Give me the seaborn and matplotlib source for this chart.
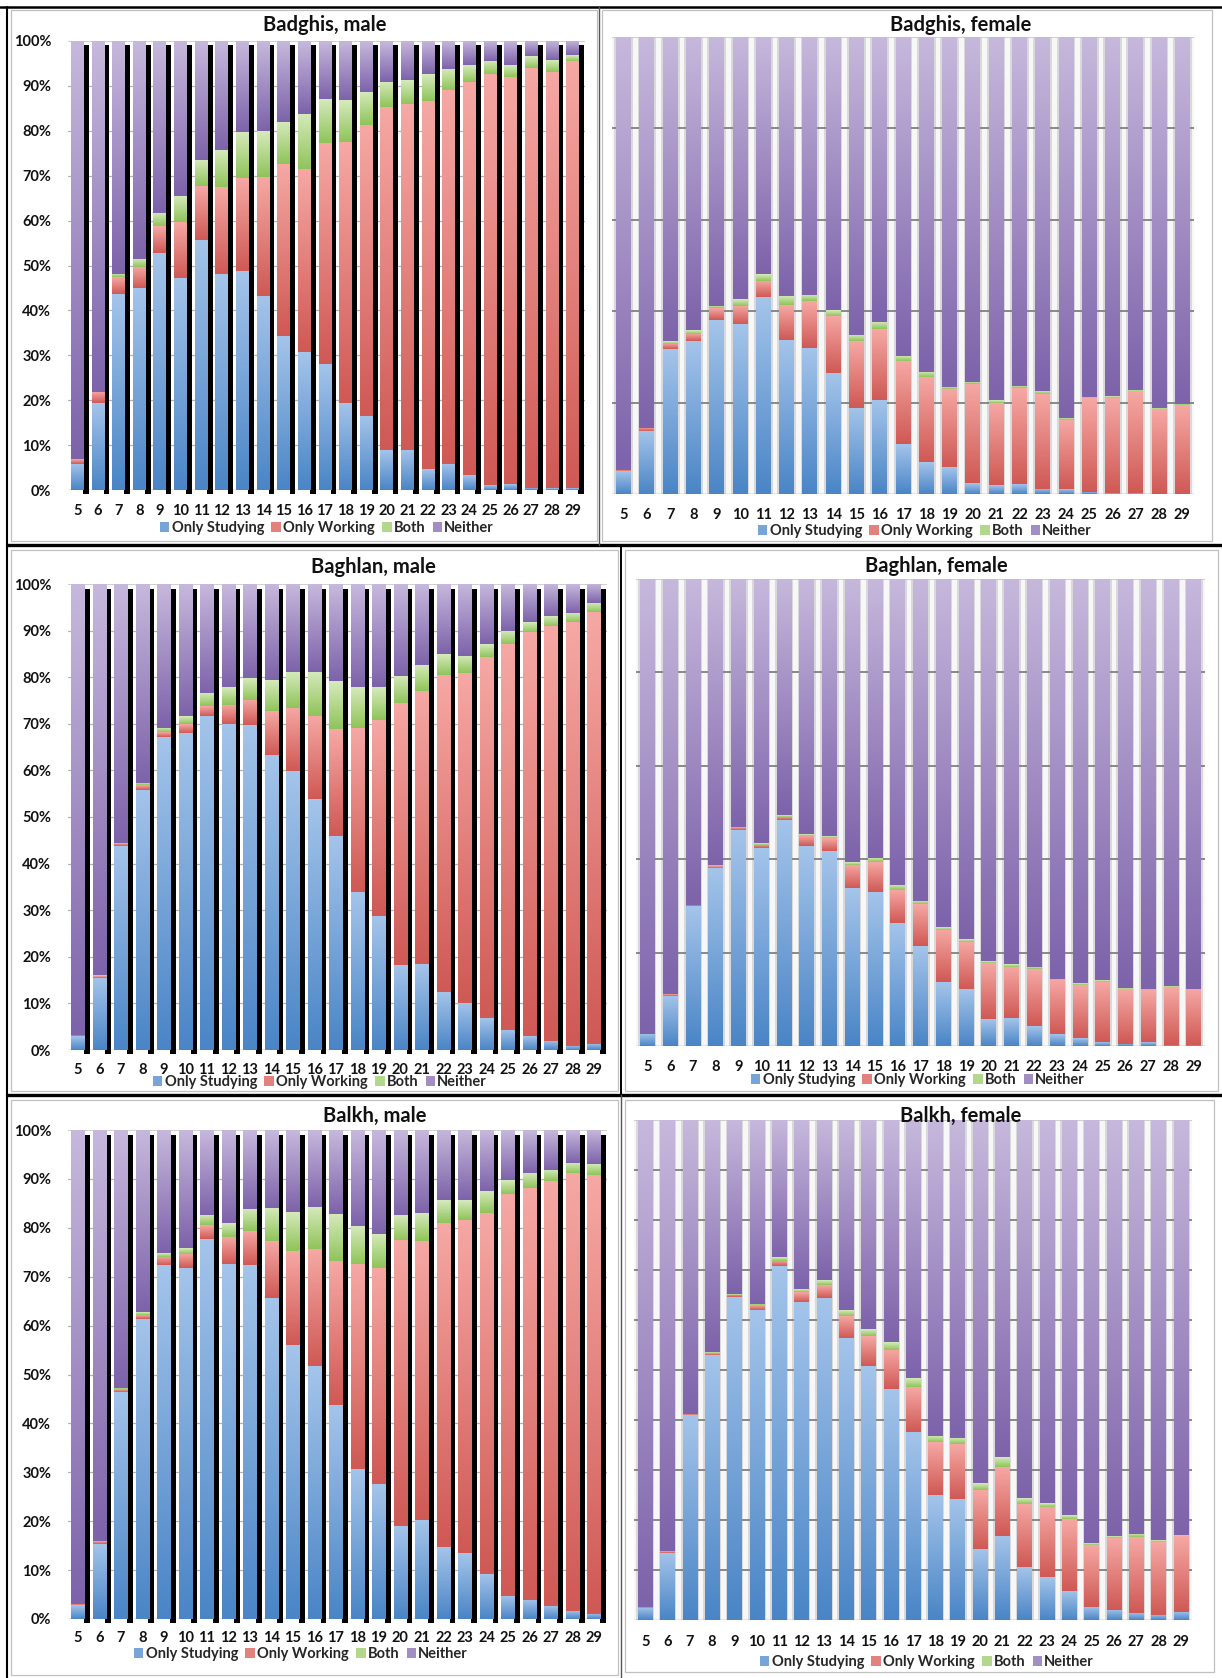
import numpy as np
import pandas as pd
import matplotlib
matplotlib.use("Agg")
import matplotlib.pyplot as plt
import seaborn as sns
from matplotlib.patches import Patch, Rectangle
from matplotlib.lines import Line2D
from matplotlib.colors import to_rgb

# ---- data (percent of each age group) ----
AGES = [5, 6, 7, 8, 9, 10, 11, 12, 13, 14, 15, 16, 17, 18, 19, 20, 21, 22, 23, 24, 25, 26, 27, 28, 29]
STATUSES = ["Only Studying", "Only Working", "Both", "Neither"]

badghis_m_study = [5.9, 19.4, 43.7, 44.9, 52.8, 47.3, 55.7, 48.1, 48.8, 43.3, 34.2, 30.7, 28.0, 19.4, 16.5, 8.8, 9.0, 4.6, 5.9, 3.3, 1.1, 1.3, 0.5, 0.4, 0.4]
badghis_m_work = [1.0, 2.5, 3.7, 4.8, 6.0, 12.3, 11.9, 19.3, 20.7, 26.5, 38.3, 40.8, 49.2, 58.1, 64.8, 76.5, 77.0, 82.1, 83.1, 87.6, 91.5, 90.7, 93.5, 92.7, 95.1]
badghis_m_both = [0.0, 0.0, 0.7, 1.8, 3.0, 5.8, 6.0, 8.4, 10.3, 10.2, 9.5, 12.3, 9.9, 9.3, 7.4, 5.6, 5.3, 5.9, 4.7, 3.7, 2.9, 2.6, 2.6, 2.6, 1.3]
badghis_m_neither = [93.1, 78.1, 51.9, 48.5, 38.2, 34.6, 26.4, 24.2, 20.2, 20.0, 18.0, 16.2, 12.9, 13.2, 11.3, 9.1, 8.7, 7.4, 6.3, 5.4, 4.5, 5.4, 3.4, 4.3, 3.2]

badghis_f_study = [5.0, 13.8, 31.7, 33.4, 38.0, 37.1, 43.0, 33.8, 32.0, 26.4, 18.9, 20.6, 10.9, 6.9, 5.8, 2.3, 1.9, 2.1, 1.1, 1.0, 0.5, 0.2, 0.2, 0.0, 0.0]
badghis_f_work = [0.2, 0.7, 1.2, 1.7, 2.6, 4.1, 3.7, 7.5, 10.2, 12.5, 14.6, 15.4, 18.3, 18.6, 17.2, 21.7, 18.1, 21.0, 20.8, 15.2, 20.4, 20.9, 22.3, 18.7, 19.4]
badghis_f_both = [0.0, 0.0, 0.5, 0.7, 0.6, 1.4, 1.5, 2.0, 1.4, 1.3, 1.4, 1.7, 1.1, 1.1, 0.5, 0.6, 0.6, 0.6, 0.7, 0.5, 0.4, 0.4, 0.2, 0.2, 0.3]
badghis_f_neither = [94.8, 85.5, 66.6, 64.2, 58.8, 57.4, 51.8, 56.7, 56.4, 59.8, 65.1, 62.3, 69.7, 73.4, 76.5, 75.4, 79.4, 76.3, 77.4, 83.3, 78.7, 78.5, 77.3, 81.1, 80.3]

baghlan_m_study = [3.0, 15.5, 43.7, 55.9, 67.2, 68.1, 71.7, 70.0, 69.8, 63.4, 59.8, 53.8, 46.0, 33.9, 28.7, 18.2, 18.4, 12.4, 10.1, 6.8, 4.3, 3.0, 2.0, 0.9, 1.3]
baghlan_m_work = [0.3, 0.4, 0.5, 0.9, 1.0, 1.9, 2.1, 4.1, 5.4, 9.4, 13.6, 17.9, 22.9, 35.2, 42.2, 56.3, 58.6, 68.1, 70.7, 77.6, 82.8, 86.8, 89.0, 90.9, 92.6]
baghlan_m_both = [0.0, 0.2, 0.3, 0.6, 0.9, 1.7, 2.9, 3.8, 4.7, 6.6, 7.8, 9.5, 10.3, 8.8, 7.0, 5.8, 5.7, 4.5, 3.7, 2.7, 2.8, 2.0, 2.1, 2.0, 2.0]
baghlan_m_neither = [96.7, 83.9, 55.5, 42.6, 30.9, 28.3, 23.3, 22.1, 20.1, 20.6, 18.8, 18.8, 20.8, 22.1, 22.1, 19.7, 17.3, 15.0, 15.5, 12.9, 10.1, 8.2, 6.9, 6.2, 4.1]

baghlan_f_study = [2.6, 10.8, 29.9, 38.1, 46.2, 42.4, 48.4, 42.8, 41.8, 33.8, 33.0, 26.3, 21.4, 13.6, 12.1, 5.7, 5.9, 4.2, 2.5, 1.7, 0.8, 0.5, 0.8, 0.3, 0.3]
baghlan_f_work = [0.0, 0.3, 0.3, 0.4, 0.6, 0.7, 0.7, 2.2, 2.7, 5.0, 6.4, 7.1, 8.9, 11.2, 10.2, 12.1, 11.0, 12.2, 11.6, 11.4, 13.0, 11.7, 11.1, 12.4, 12.0]
baghlan_f_both = [0.0, 0.0, 0.0, 0.3, 0.2, 0.3, 0.3, 0.4, 0.4, 0.6, 0.9, 1.1, 0.7, 0.6, 0.6, 0.4, 0.6, 0.5, 0.3, 0.4, 0.3, 0.2, 0.3, 0.2, 0.0]
baghlan_f_neither = [97.4, 88.9, 69.8, 61.2, 53.0, 56.6, 50.6, 54.6, 55.1, 60.6, 59.7, 65.5, 69.0, 74.6, 77.1, 81.8, 82.5, 83.1, 85.6, 86.5, 85.9, 87.6, 87.8, 87.1, 87.7]

balkh_m_study = [2.8, 15.4, 46.4, 61.4, 72.3, 71.8, 77.8, 72.5, 72.3, 65.6, 56.0, 51.7, 43.7, 30.7, 27.6, 19.0, 20.3, 14.7, 13.4, 9.3, 4.8, 3.9, 2.7, 1.7, 1.1]
balkh_m_work = [0.2, 0.5, 0.6, 0.8, 1.8, 2.9, 2.8, 5.6, 7.1, 11.6, 19.2, 23.9, 29.5, 41.8, 44.2, 58.6, 56.9, 66.2, 68.2, 73.8, 82.2, 84.3, 86.9, 89.5, 89.6]
balkh_m_both = [0.0, 0.0, 0.3, 0.5, 0.8, 1.2, 2.1, 2.8, 4.5, 6.9, 8.1, 8.7, 9.7, 7.9, 7.0, 5.1, 5.9, 4.7, 4.0, 4.5, 2.8, 3.1, 2.3, 2.1, 2.3]
balkh_m_neither = [97.0, 84.1, 52.7, 37.3, 25.1, 24.1, 17.3, 19.1, 16.1, 15.9, 16.7, 15.7, 17.1, 19.6, 21.2, 17.3, 16.9, 14.4, 14.4, 12.4, 10.2, 8.7, 8.1, 6.7, 7.0]

balkh_f_study = [2.5, 13.5, 41.1, 53.1, 64.7, 62.0, 70.8, 63.7, 64.5, 56.5, 50.8, 46.2, 37.7, 25.0, 24.3, 14.3, 16.9, 10.6, 8.6, 5.9, 2.7, 2.1, 1.5, 1.1, 1.7]
balkh_f_work = [0.2, 0.3, 0.2, 0.3, 0.4, 1.0, 1.1, 2.0, 2.5, 4.3, 6.0, 7.9, 8.9, 10.6, 10.9, 11.7, 13.7, 12.7, 14.1, 14.4, 12.4, 14.4, 15.1, 14.5, 15.2]
balkh_f_both = [0.0, 0.0, 0.0, 0.2, 0.2, 0.3, 0.7, 0.6, 1.0, 1.2, 1.4, 1.5, 1.8, 1.3, 1.3, 1.4, 2.0, 1.1, 0.8, 0.8, 0.4, 0.4, 0.7, 0.4, 0.1]
balkh_f_neither = [97.3, 86.2, 58.7, 46.4, 34.7, 36.7, 27.4, 33.7, 32.0, 38.0, 41.8, 44.4, 51.6, 63.1, 63.5, 72.6, 67.4, 75.6, 76.5, 78.9, 84.5, 83.1, 82.7, 84.0, 83.0]

# ---- styling ----
W, H = 1222, 1678
# (top, bottom) colours of the Excel-style vertical gradient
GRAD = {
    "Only Studying": ("#a4c4ea", "#4a85c6"),
    "Only Working": ("#f6a8a4", "#cf5955"),
    "Both": ("#d6eabc", "#90c45a"),
    "Neither": ("#c6b8dc", "#7d63aa"),
}
MID = {k: tuple((np.array(to_rgb(a)) + np.array(to_rgb(b))) / 2) for k, (a, b) in GRAD.items()}

sns.set_theme(style="white")
plt.rcParams["font.family"] = ["Lato", "DejaVu Sans"]
plt.rcParams["font.weight"] = "bold"

fig = plt.figure(figsize=(W / 100, H / 100), dpi=100)


def px_axes(l, t, r, b):
    return fig.add_axes([l / W, 1 - b / H, (r - l) / W, (b - t) / H])


def long_frame(study, work, both, neither):
    return pd.DataFrame({
        "age": AGES * 4,
        "status": [s for s in STATUSES for _ in AGES],
        "share": study + work + both + neither,
    })


def paint_gradients(ax, containers):
    # swap each flat seaborn bar for a vertical gradient of its own colour
    for cont in containers:
        if not cont.patches:
            continue
        fc = np.array(cont.patches[0].get_facecolor()[:3])
        status = min(MID, key=lambda k: np.abs(np.array(MID[k]) - fc).sum())
        top, bottom = GRAD[status]
        ramp = np.linspace(0, 1, 64)[:, None, None]
        img = (1 - ramp) * np.array(to_rgb(bottom)) + ramp * np.array(to_rgb(top))
        for p in cont.patches:
            h = p.get_height()
            if h <= 0:
                continue
            x, y, w = p.get_x(), p.get_y(), p.get_width()
            ax.imshow(img, extent=(x, x + w, y, y + h), origin="lower", aspect="auto",
                      interpolation="bilinear", zorder=1.2)
            p.set_visible(False)


def draw_panel(spec):
    l, t, r, b = spec["box"]
    ax = px_axes(l, t, r, b)
    df = long_frame(*spec["data"])
    male = spec["male"]
    width = 0.62 if male else 0.64

    if male:
        for v in range(10, 100, 10):
            ax.axhline(v, color="#b4b4b4", lw=0.9, zorder=0.5)
        # black shadow bars that sit behind each column
        sh = ax.bar([a + 0.42 for a in AGES], 99.0 + 0.8, bottom=-0.8, width=0.27,
                    color="black", linewidth=0, zorder=0.9)
        for p in sh:
            p.set_clip_on(False)
    else:
        ax.set_facecolor("#d9d9d9")
        ax.bar([a + 0.5 for a in AGES] + [AGES[0] - 0.5], 100, width=0.2,
               color="#f7f7f7", linewidth=0, zorder=0.3)
        step = spec["grid"]
        for v in range(step, 100, step):
            ax.axhline(v, color="#808080", lw=1.3, zorder=0.5)
    ax.axhline(100, color="#c8c8c8", lw=1.2, zorder=0.5)
    ax.axhline(0, color="#a0a0a0", lw=1.0, zorder=0.5)

    n_before = len(ax.containers)
    sns.histplot(data=df, x="age", weights="share", hue="status",
                 hue_order=["Neither", "Both", "Only Working", "Only Studying"],
                 palette=MID, multiple="stack", discrete=True, shrink=width,
                 alpha=1, linewidth=0, legend=False, ax=ax)
    paint_gradients(ax, ax.containers[n_before:])

    ax.set_xlim(spec["xlim"])
    ax.set_ylim(0, 100)
    for s in ax.spines.values():
        s.set_visible(False)
    ax.set_xlabel("")
    ax.set_ylabel("")
    ax.set_xticks(AGES)
    ax.set_xticklabels([str(a) for a in AGES], fontsize=10.5, fontweight="bold")
    ax.tick_params(axis="x", length=0, pad=spec["xpad"], colors="#111111")
    if male:
        ticks = list(range(0, 101, 10))
        ax.set_yticks(ticks)
        ax.set_yticklabels([f"{v}%" for v in ticks], fontsize=10.5, fontweight="bold")
        ax.tick_params(axis="y", length=0, pad=12, colors="#111111")
    else:
        ax.set_yticks([])

    tx, ty = spec["title_at"]
    fig.text(tx / W, 1 - ty / H, spec["title"], ha="center", va="center",
             fontsize=14.5, fontweight="bold", color="#111111")

    lx, ly = spec["legend_at"]
    handles = [Patch(facecolor=MID[s], edgecolor="none") for s in STATUSES]
    fig.legend(handles, STATUSES, loc="center", bbox_to_anchor=(lx / W, 1 - ly / H),
               ncol=4, frameon=False, handlelength=0.65, handleheight=0.65,
               handletextpad=0.15, columnspacing=0.5, borderpad=0, borderaxespad=0,
               prop={"weight": "bold", "size": 10.5})


PANELS = [
    dict(title="Badghis, male", male=True, box=(68, 41, 585, 490), xlim=(4.55, 29.6), xpad=10,
         title_at=(325, 25), legend_at=(327, 528),
         data=(badghis_m_study, badghis_m_work, badghis_m_both, badghis_m_neither)),
    dict(title="Badghis, female", male=False, grid=20, box=(612, 37, 1194, 494), xlim=(4.5, 29.5), xpad=10,
         title_at=(961, 25), legend_at=(925, 531),
         data=(badghis_f_study, badghis_f_work, badghis_f_both, badghis_f_neither)),
    dict(title="Baghlan, male", male=True, box=(68, 584, 607, 1050), xlim=(4.55, 29.6), xpad=9,
         title_at=(373, 567), legend_at=(320, 1082),
         data=(baghlan_m_study, baghlan_m_work, baghlan_m_both, baghlan_m_neither)),
    dict(title="Baghlan, female", male=False, grid=20, box=(636, 579, 1205, 1046), xlim=(4.5, 29.5), xpad=10,
         title_at=(936, 566), legend_at=(918, 1080),
         data=(baghlan_f_study, baghlan_f_work, baghlan_f_both, baghlan_f_neither)),
    dict(title="Balkh, male", male=True, box=(68, 1130, 607, 1619), xlim=(4.55, 29.6), xpad=9,
         title_at=(375, 1116), legend_at=(301, 1654),
         data=(balkh_m_study, balkh_m_work, balkh_m_both, balkh_m_neither)),
    dict(title="Balkh, female", male=False, grid=10, box=(634, 1120, 1192, 1620), xlim=(4.5, 29.5), xpad=11,
         title_at=(961, 1116), legend_at=(927, 1662),
         data=(balkh_f_study, balkh_f_work, balkh_f_both, balkh_f_neither)),
]

for spec in PANELS:
    draw_panel(spec)


# ---- table frame and chart borders ----
def fig_line(x0, y0, x1, y1, color="black", lw=1.5):
    fig.add_artist(Line2D([x0 / W, x1 / W], [1 - y0 / H, 1 - y1 / H],
                          transform=fig.transFigure, color=color, lw=lw))


def fig_box(l, t, r, b, color="#c0c0c0", lw=0.9):
    fig.add_artist(Rectangle((l / W, 1 - b / H), (r - l) / W, (b - t) / H,
                             transform=fig.transFigure, fill=False, ec=color, lw=lw))


for box in [(11, 10, 597, 541), (602, 10, 1212, 541), (11, 550, 618, 1091),
            (625, 550, 1218, 1091), (11, 1100, 618, 1675), (625, 1100, 1214, 1672)]:
    fig_box(*box)

fig_line(0, 7, W, 7, lw=1.8)
fig_line(7, 7, 7, H, lw=1.5)
fig_line(7, 545, W, 545, lw=2.4)
fig_line(7, 1095, W, 1095, lw=2.4)
fig_line(599, 7, 599, 545, color="#555555", lw=1.0)
fig_line(621, 545, 621, 1095, lw=1.4)
fig_line(621, 1095, 621, H, color="#555555", lw=1.0)

fig.savefig("out.png", dpi=100)
